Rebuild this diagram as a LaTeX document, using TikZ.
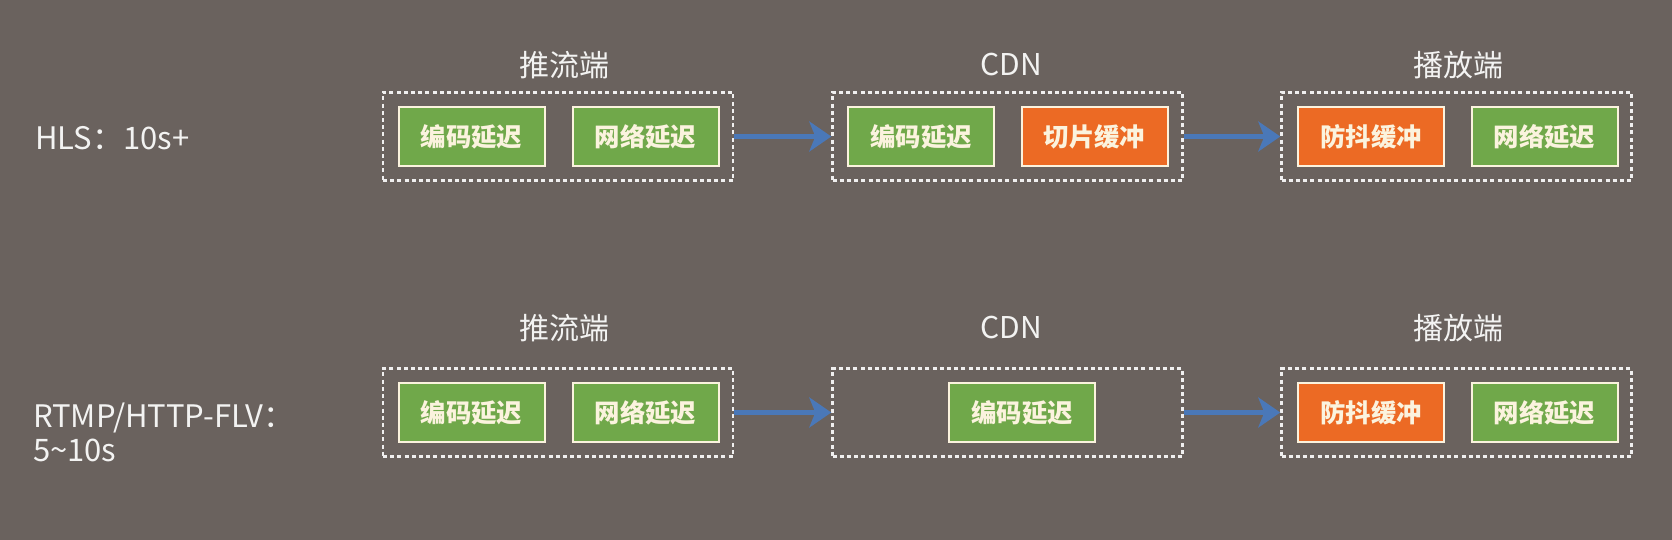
\documentclass[tikz,border=0pt]{standalone}
\usepackage{fontspec}
\setmainfont{Noto Sans CJK SC}
\usetikzlibrary{arrows.meta,positioning}

\definecolor{bg}{HTML}{6A625E}
\definecolor{grn}{HTML}{70A84A}
\definecolor{org}{HTML}{EC6A24}
\definecolor{arrblue}{HTML}{4A78B8}
\definecolor{cream}{HTML}{FBF3DE}

\tikzset{
	stage/.style={draw=cream, line width=1pt, text=cream, minimum width=73pt, minimum height=29.5pt, inner sep=0pt, font=\fontsize{12.7}{14}\selectfont\bfseries},
	gstage/.style={stage, fill=grn},
	ostage/.style={stage, fill=org},
	grp/.style={draw=white!90!bg, line width=1.2pt, dash pattern=on 2pt off 1.6pt, minimum width=175pt, minimum height=44pt, inner sep=0pt},
	ttl/.style={text=white!92!bg, font=\fontsize{15}{18}\selectfont},
	lbl/.style={text=white!92!bg, anchor=west, align=left, font=\fontsize{15.5}{17}\selectfont},
	link/.style={draw=arrblue, line width=2.4pt, -{Stealth[length=11pt,width=15pt,inset=3pt]}},
}

\begin{document}
\begin{tikzpicture}[x=0.5pt,y=-0.5pt]
	\fill[bg] (0,0) rectangle (1672,540);
	% HLS
	\node[lbl] (l1) at (28,138) {HLS：10s+};
	\node[ttl] (t1) at (564,65) {推流端};
	\node[ttl] (t2) at (1011,65) {CDN};
	\node[ttl] (t3) at (1458,65) {播放端};
	\node[grp] (p1) at (558,136.5) {};
	\node[grp] (p2) at (1007.5,136.5) {};
	\node[grp] (p3) at (1456.5,136.5) {};
	\node[gstage] (o1) at (471.5,137) {编码延迟};
	\node[gstage] (o2) at (645.5,137) {网络延迟};
	\node[gstage] (o3) at (921,137) {编码延迟};
	\node[ostage] (o4) at (1094.5,137) {切片缓冲};
	\node[ostage] (o5) at (1371,137) {防抖缓冲};
	\node[gstage] (o6) at (1544.5,137) {网络延迟};
	\draw[link] (p1) -- (p2);
	\draw[link] (p2) -- (p3);
	% RTMP / HTTP-FLV
	\node[lbl] (l2) at (26,432) {RTMP/HTTP-FLV：\\5\textasciitilde10s};
	\node[ttl] (s1) at (564,328) {推流端};
	\node[ttl] (s2) at (1011,328) {CDN};
	\node[ttl] (s3) at (1458,328) {播放端};
	\node[grp] (q1) at (558,412.5) {};
	\node[grp] (q2) at (1007.5,412.5) {};
	\node[grp] (q3) at (1456.5,412.5) {};
	\node[gstage] (r1) at (471.5,412.5) {编码延迟};
	\node[gstage] (r2) at (645.5,412.5) {网络延迟};
	\node[gstage] (r3) at (1022,412.5) {编码延迟};
	\node[ostage] (r5) at (1371,412.5) {防抖缓冲};
	\node[gstage] (r6) at (1544.5,412.5) {网络延迟};
	\draw[link] (q1) -- (q2);
	\draw[link] (q2) -- (q3);
\end{tikzpicture}
\end{document}
